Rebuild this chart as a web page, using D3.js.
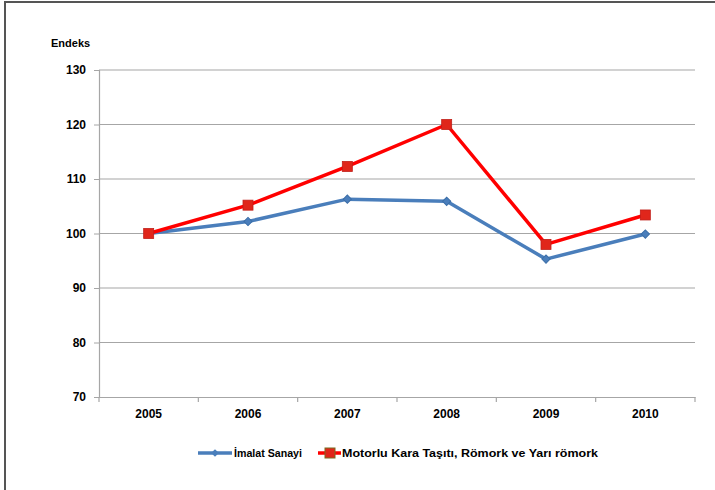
<!DOCTYPE html>
<html><head><meta charset="utf-8">
<script src="https://cdn.jsdelivr.net/npm/d3@7"></script>
<style>
html,body{margin:0;padding:0;background:#fff;}
svg text{font-family:"Liberation Sans","Open Sans",sans-serif;font-weight:bold;fill:#000;}
</style></head>
<body><svg id="c" width="715" height="490"></svg>
<script>
const years = ["2005","2006","2007","2008","2009","2010"];
const imalat = [100, 102.2, 106.3, 105.9, 95.3, 99.9];
const motorlu = [100, 105.2, 112.3, 120.0, 98.0, 103.4];
const yTicks = [70, 80, 90, 100, 110, 120, 130];
const seriesNames = ["İmalat Sanayi", "Motorlu Kara Taşıtı, Römork ve Yarı römork"];

(function(){
const svg = d3.select("#c");
svg.append("path").attr("d","M5,490 V2 H715").attr("fill","none").attr("stroke","#555").attr("stroke-width",2);

const pL=99, pR=695, pT=70, pB=397;
const x = d3.scaleBand().domain(years).range([pL,pR]);
const y = d3.scaleLinear().domain([70,130]).range([pB,pT]);

svg.append("g").selectAll("line").data(yTicks.filter(d=>d>70)).join("line")
  .attr("x1",pL).attr("x2",pR).attr("y1",d=>y(d)).attr("y2",d=>y(d))
  .attr("stroke","#a6a6a6").attr("stroke-width",1.2);

const ya = svg.append("g").attr("transform",`translate(${pL},0)`)
  .call(d3.axisLeft(y).tickValues(yTicks).tickSize(5).tickPadding(8));
ya.select(".domain").attr("stroke","#a6a6a6").attr("stroke-width",1.2);
ya.selectAll(".tick line").attr("stroke","#a6a6a6");
ya.selectAll("text").attr("font-size",12).attr("font-family",null);

const xa = svg.append("g").attr("transform",`translate(0,${pB})`)
  .call(d3.axisBottom(x).tickSize(0).tickPadding(12));
xa.select(".domain").attr("stroke","#a6a6a6").attr("stroke-width",1.2);
xa.selectAll("text").attr("font-size",12).attr("font-family",null);
const bounds = years.map(d=>x(d)).concat([pR]);
svg.append("g").selectAll("line").data(bounds).join("line")
  .attr("x1",d=>d).attr("x2",d=>d).attr("y1",pB).attr("y2",pB+5)
  .attr("stroke","#a6a6a6").attr("stroke-width",1.2);

svg.append("text").attr("x",51).attr("y",47).attr("font-size",11).text("Endeks");

const cx = d=>x(d)+x.bandwidth()/2;
const line = d3.line().x((d,i)=>cx(years[i])).y(d=>y(d));
const blue="#4a7ebb", red="#ff0000";

svg.append("path").datum(imalat).attr("d",line).attr("fill","none").attr("stroke",blue).attr("stroke-width",3.5).attr("stroke-linejoin","round");
svg.append("path").datum(motorlu).attr("d",line).attr("fill","none").attr("stroke",red).attr("stroke-width",3.5).attr("stroke-linejoin","round");

svg.append("g").selectAll("path").data(imalat).join("path")
  .attr("d",d3.symbol().type(d3.symbolSquare).size(34)())
  .attr("transform",(d,i)=>`translate(${cx(years[i])},${y(d)}) rotate(45)`)
  .attr("fill",blue).attr("stroke","#3b6ea8").attr("stroke-width",1);
svg.append("g").selectAll("rect").data(motorlu).join("rect")
  .attr("x",(d,i)=>cx(years[i])-5).attr("y",d=>y(d)-5).attr("width",10).attr("height",10)
  .attr("fill","#e0261b").attr("stroke","#c0201a").attr("stroke-width",0.8);

const ly = 453;
const lg = svg.append("g");
lg.append("line").attr("x1",198).attr("x2",232).attr("y1",ly).attr("y2",ly).attr("stroke",blue).attr("stroke-width",3.5);
lg.append("path").attr("d",d3.symbol().type(d3.symbolSquare).size(30)()).attr("transform",`translate(215,${ly}) rotate(45)`).attr("fill",blue);
lg.append("text").attr("x",234).attr("y",ly+4).attr("font-size",11).attr("textLength",68).attr("lengthAdjust","spacingAndGlyphs").text(seriesNames[0]);
lg.append("line").attr("x1",318).attr("x2",341).attr("y1",ly).attr("y2",ly).attr("stroke",red).attr("stroke-width",3.5);
lg.append("rect").attr("x",325).attr("y",ly-5).attr("width",10).attr("height",10).attr("fill","#e0261b").attr("stroke","#7a6a20").attr("stroke-width",1);
lg.append("text").attr("x",342).attr("y",ly+4).attr("font-size",11).attr("textLength",256).attr("lengthAdjust","spacingAndGlyphs").text(seriesNames[1]);
})();
</script></body></html>
